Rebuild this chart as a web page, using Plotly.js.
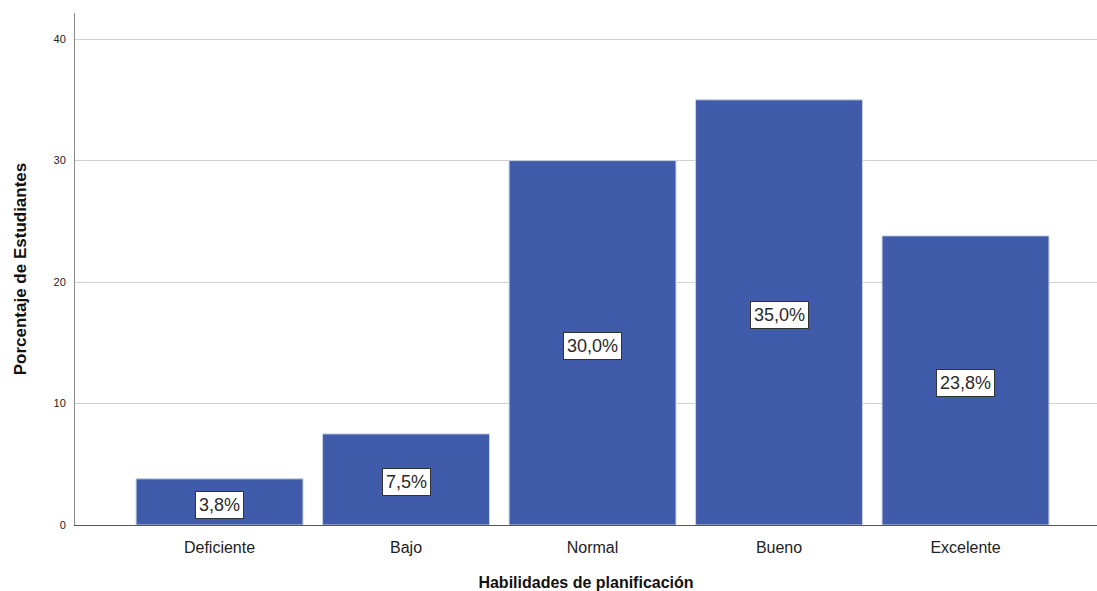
<!DOCTYPE html>
<html>
<head>
<meta charset="utf-8">
<script src="https://cdn.plot.ly/plotly-3.0.1.min.js"></script>
<style>
  html, body { margin: 0; padding: 0; background: #fff; }
  #chart { width: 1097px; height: 591px; }
</style>
</head>
<body>
<div id="chart"></div>
<script>
// Porcentaje de estudiantes por nivel de habilidades de planificación
const categories = ['Deficiente', 'Bajo', 'Normal', 'Bueno', 'Excelente'];
const percentages = [3.8, 7.5, 30.0, 35.0, 23.8];
const yTicks = [0, 10, 20, 30, 40];

const fmt = v => v.toFixed(1).replace('.', ',') + '%';

const bars = {
  type: 'bar',
  x: categories,
  y: percentages,
  marker: { color: '#3F5BA9', line: { color: '#C9D0E6', width: 1 } },
  hoverinfo: 'x+y'
};

// value labels in white boxes, centred on each bar
const labels = categories.map((c, i) => ({
  x: c,
  y: percentages[i] / 2,
  xref: 'x', yref: 'y',
  yshift: -3,
  text: fmt(percentages[i]),
  showarrow: false,
  font: { family: 'Liberation Sans, Arial, sans-serif', size: 18, color: '#2a2a2a' },
  bgcolor: '#ffffff',
  bordercolor: '#333333',
  borderwidth: 1,
  borderpad: 3
}));

const layout = {
  width: 1097, height: 591,
  margin: { l: 75, r: 0, t: 13, b: 66 },
  paper_bgcolor: '#fff',
  plot_bgcolor: '#fff',
  bargap: 0.105,
  showlegend: false,
  font: { family: 'Liberation Sans, Arial, sans-serif', color: '#222' },
  xaxis: {
    range: [-0.775, 4.705],
    showgrid: false,
    showline: true, linecolor: '#555', linewidth: 1,
    ticks: '',
    ticklabelstandoff: 8,
    tickfont: { size: 16, color: '#222' },
    title: {
      text: 'Habilidades de planificación',
      font: { size: 16, color: '#111', family: 'Liberation Sans, Arial, sans-serif', weight: 'bold' },
      standoff: 26
    },
    fixedrange: true
  },
  yaxis: {
    range: [0, 42.15],
    tickvals: yTicks,
    ticktext: yTicks.map(String),
    showgrid: true, gridcolor: '#D0D0D0', gridwidth: 1,
    zeroline: false,
    showline: true, linecolor: '#888', linewidth: 1,
    ticks: '',
    ticklabelstandoff: 6,
    tickfont: { size: 11, color: '#222' },
    title: {
      text: 'Porcentaje de Estudiantes',
      font: { size: 17, color: '#111', family: 'Liberation Sans Narrow, Liberation Sans, Arial, sans-serif', weight: 'bold' },
      standoff: 22
    },
    fixedrange: true
  },
  annotations: labels
};

Plotly.newPlot('chart', [bars], layout, { displayModeBar: false, staticPlot: true });
</script>
</body>
</html>
